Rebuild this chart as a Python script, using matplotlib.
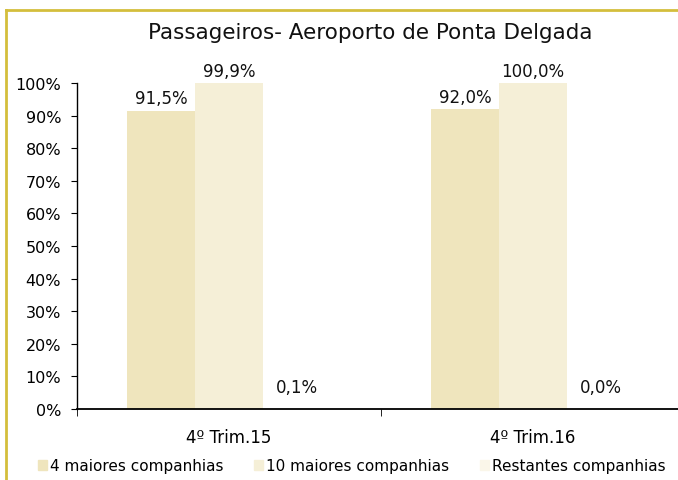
import matplotlib
matplotlib.use("Agg")
import matplotlib.pyplot as plt
from matplotlib.lines import Line2D
from matplotlib.patches import Rectangle
import numpy as np

categories = ["4º Trim.15", "4º Trim.16"]
series_names = ["4 maiores companhias", "10 maiores companhias", "Restantes companhias"]
top4 = [91.5, 92.0]
top10 = [99.9, 100.0]
rest = [0.1, 0.0]
labels = [["91,5%", "92,0%"], ["99,9%", "100,0%"], ["0,1%", "0,0%"]]
yticks = [0, 10, 20, 30, 40, 50, 60, 70, 80, 90, 100]
colors = ["#EFE5BD", "#F5EFD7", "#FAF6E9"]

plt.rcParams['font.family'] = ['DejaVu Sans']

fig = plt.figure(figsize=(6.78, 4.81), dpi=100)
ax = fig.add_axes([77/678, 1-410/481, (685-77)/678, (410-84)/481])

x = np.arange(len(categories))
w = 68/304
series = [top4, top10, rest]
for i, (vals, col) in enumerate(zip(series, colors)):
    pos = x + (i-1)*w
    ax.bar(pos, vals, width=w, color=col, label=series_names[i])
    off = 1.0 if i < 2 else 4.0
    for p, v, lab in zip(pos, vals, labels[i]):
        ax.text(p, v + off, lab, ha='center', va='bottom', fontsize=12, color='#111111')

ax.set_xlim(-0.5, 1.5)
ax.set_ylim(0, 100)
ax.set_yticks(yticks)
ax.set_yticklabels([f"{t}%" for t in yticks], fontsize=11.5)
ax.set_xticks(x)
ax.set_xticklabels(categories, fontsize=12)
ax.tick_params(axis='x', length=0, pad=14)
ax.set_xticks([-0.5, 0.5, 1.5], minor=True)
ax.tick_params(axis='x', which='minor', length=5, direction='out')
ax.tick_params(axis='y', length=4, direction='out', pad=7.5)
for s in ['top', 'right']:
    ax.spines[s].set_visible(False)
ax.spines['bottom'].set_linewidth(1.3)
ax.spines['left'].set_linewidth(1.0)

fig.text(370/678, 1-33/481, "Passageiros- Aeroporto de Ponta Delgada", ha='center', va='center', fontsize=15.5, color='#111111')

handles = [Rectangle((0, 0), 1, 1, color=c) for c in colors]
fig.legend(handles, series_names, loc='center', bbox_to_anchor=(352/678, 1-467/481), ncol=3,
           frameon=False, fontsize=11, handlelength=0.6, handleheight=0.6, handletextpad=0.2, columnspacing=2.0)

fig.add_artist(Line2D([6/678, 6/678], [0, 1-11/481], color='#D4BE3C', lw=2.0, transform=fig.transFigure))
fig.add_artist(Line2D([6/678, 1], [1-11/481, 1-11/481], color='#D4BE3C', lw=2.0, transform=fig.transFigure))

fig.savefig("out.png", dpi=100)
